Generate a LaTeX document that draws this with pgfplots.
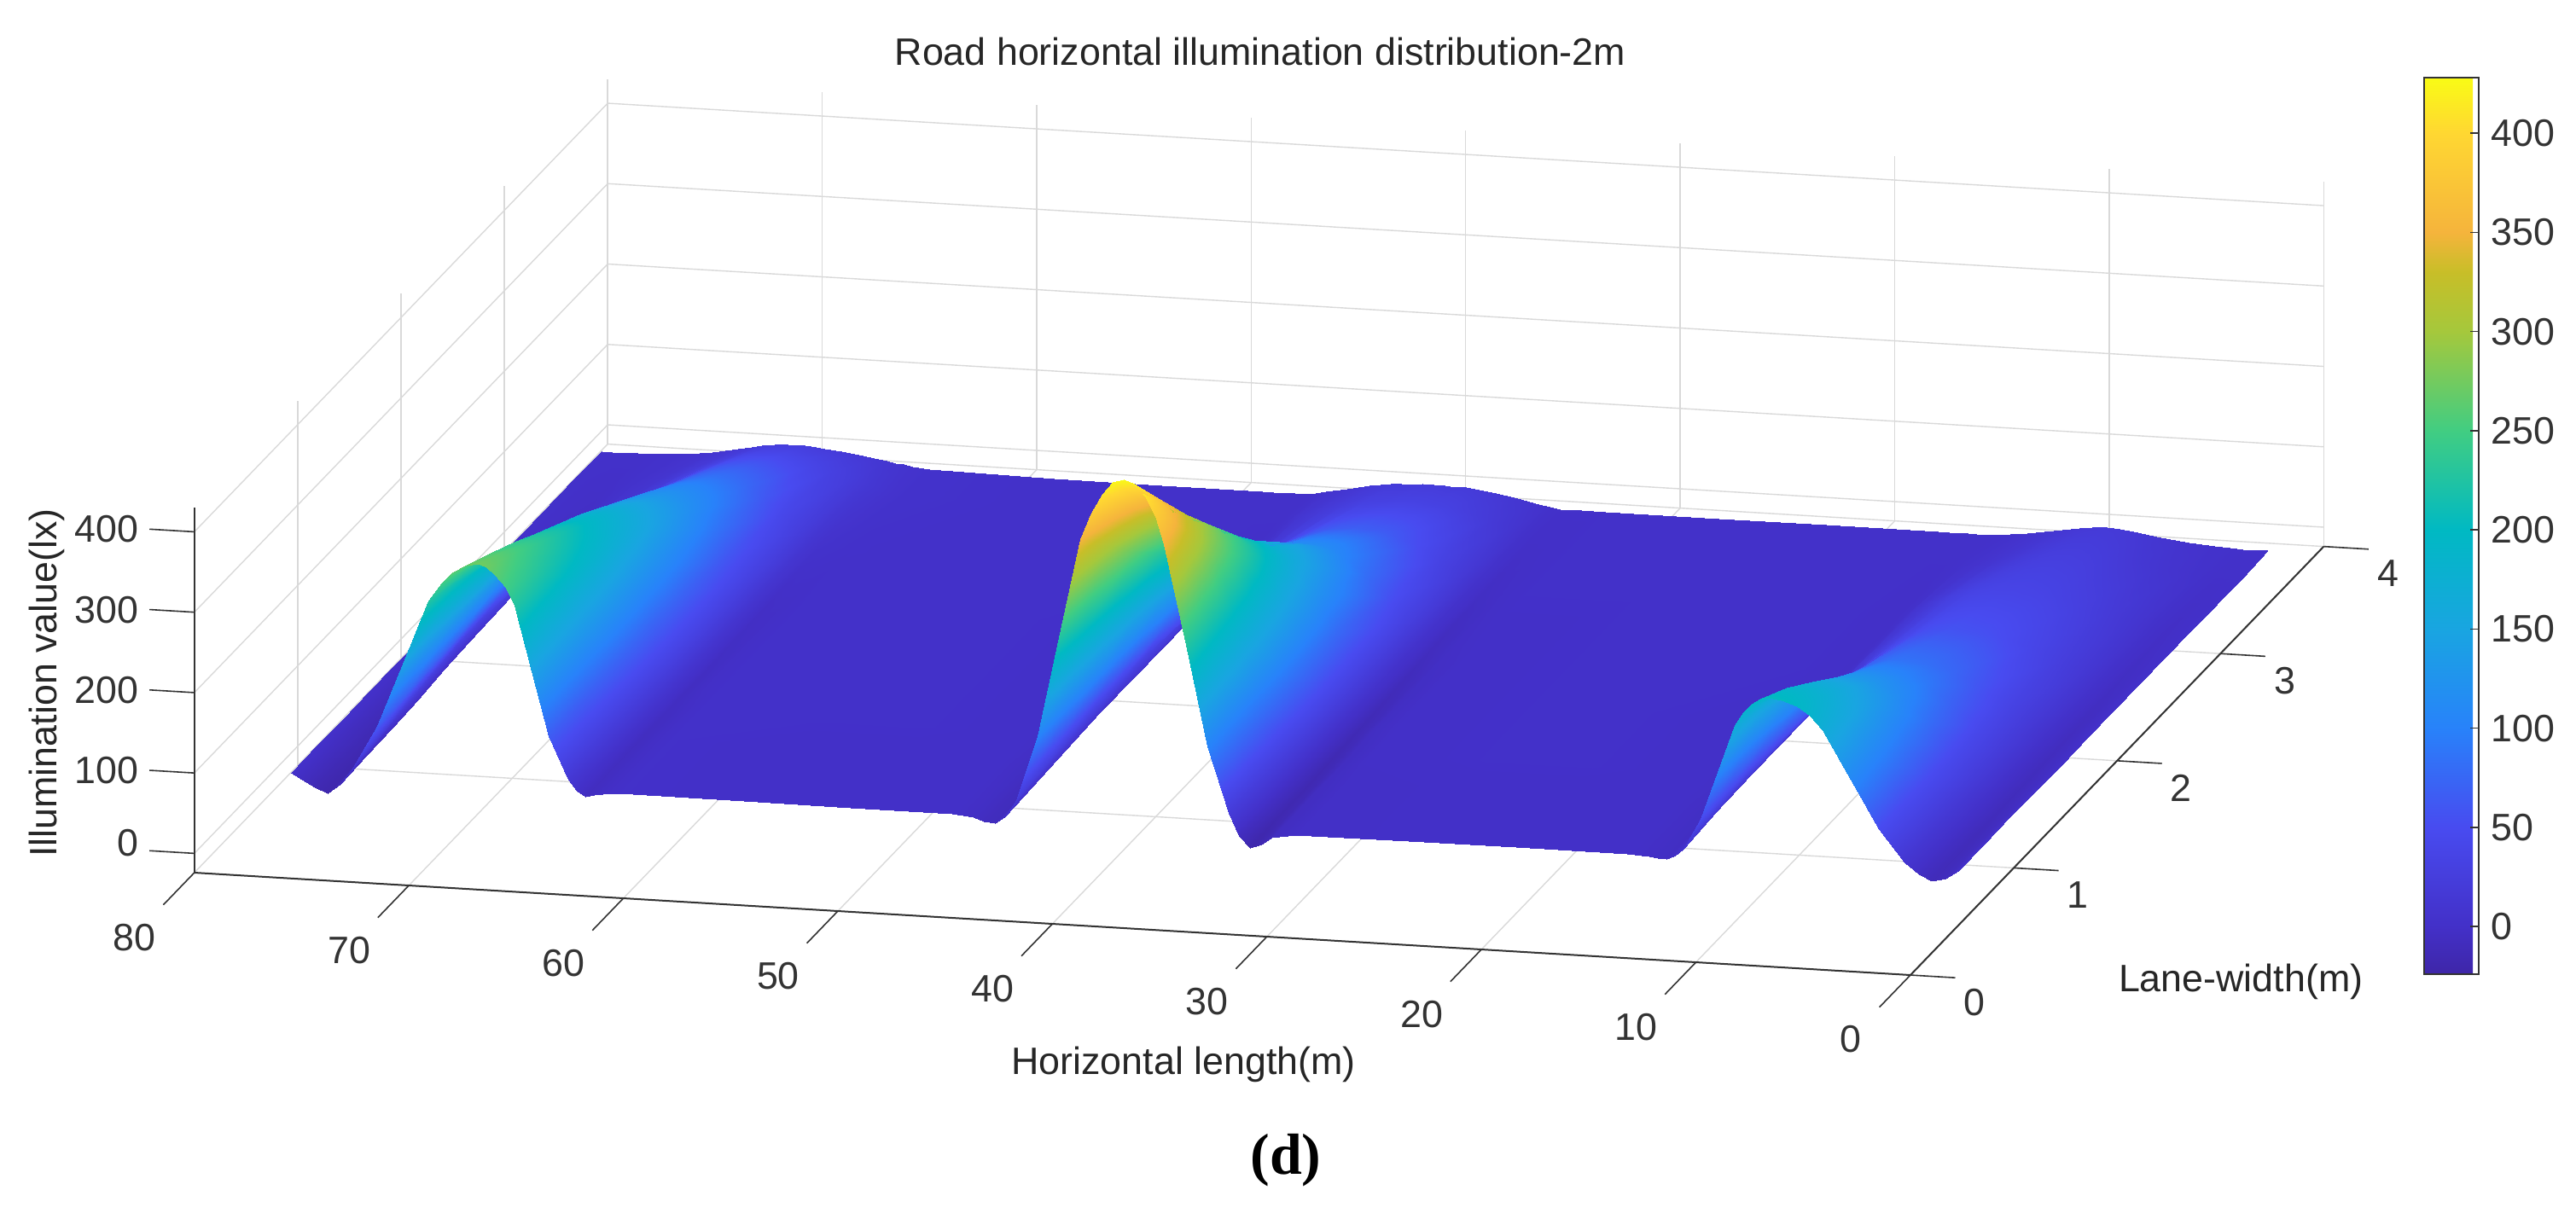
\documentclass[border=0pt]{standalone}
\usepackage{fontspec}
\setmainfont{Liberation Sans}
\newfontfamily\serifbf{Liberation Serif}
\usepackage{pgfplots}
\pgfplotsset{compat=1.18}
\newcommand{\lab}{\fontsize{11.2}{13}\selectfont}
\begin{document}
\begin{tikzpicture}
\begin{axis}[
  at={(0pt,0pt)},anchor=origin,
  x dir=reverse,
  x={(6.285pt,-0.375pt)},y={(30.275pt,31.4pt)},z={(0pt,0.2356pt)},
  xmin=0,xmax=80,ymin=0,ymax=4,zmin=-24,zmax=430,
  xtick={0,10,...,80},ytick={0,1,2,3,4},ztick={0,100,200,300,400},
  grid=major,
  grid style={gray!30,line width=0.35pt},
  axis line style={draw=none},
  tick align=outside,
  major tick length=12pt,
  tick style={draw=none},
  tick label style={font=\lab,text=black!80},
  xticklabel style={xshift=-6pt,yshift=-2.4pt},
  zticklabel style={xshift=-4.45pt,yshift=14.4pt},
  /pgf/number format/assume math mode=true,
  clip=false,
  colormap={parula}{rgb255(0pt)=(62,38,168);rgb255(24pt)=(67,48,200);rgb255(74pt)=(72,75,240);rgb255(124pt)=(40,130,250);rgb255(174pt)=(25,165,225);rgb255(224pt)=(0,185,195);rgb255(274pt)=(65,205,130);rgb255(324pt)=(165,200,60);rgb255(354pt)=(200,190,40);rgb255(374pt)=(245,180,60);rgb255(424pt)=(255,215,50);rgb255(452pt)=(249,251,21)},
  point meta min=-24,point meta max=428,
  colorbar,
  colorbar style={
    at={(parent axis.origin)},anchor=south west,xshift=142pt,yshift=-5.4pt,
    width=16pt,height=262.75pt,
    ytick={0,50,...,400},
    ytick pos=right,
    tick align=inside,major tick length=2.5pt,
    tick style={draw=black!80,line width=0.4pt},
    axis line style={draw=black!80,line width=0.5pt},
    yticklabel style={font=\lab,text=black!80},
    /pgf/number format/assume math mode=true,
  },
]
\addplot3[surf,shader=interp,z buffer=sort,mesh/rows=10,mesh/cols=78] table[row sep=\\] {
1.4 0.75 3\\2 0.75 -7\\2.6 0.75 -11\\3.2 0.75 -4\\3.9 0.75 10\\5.1 0.75 49\\6.4 0.75 109\\7.7 0.75 168\\8.3 0.75 185\\8.9 0.75 196\\9.6 0.75 203\\10.2 0.75 205\\10.6 0.75 203\\11 0.75 196\\11.4 0.75 185\\11.8 0.75 168\\12.6 0.75 109\\13.4 0.75 49\\14.2 0.75 10\\14.6 0.75 1\\15 0.75 -4\\15.4 0.75 -3\\15.8 0.75 -2\\16.8 0.75 0\\22 0.75 0\\27 0.75 0\\32.3 0.75 -1\\33.4 0.75 -6\\33.9 0.75 -15\\34.4 0.75 -21\\34.9 0.75 -7\\35.4 0.75 21\\36.4 0.75 103\\37.4 0.75 227\\38.4 0.75 351\\38.8 0.75 385\\39.3 0.75 409\\39.8 0.75 424\\40.3 0.75 428\\40.8 0.75 424\\41.3 0.75 409\\41.8 0.75 385\\42.3 0.75 351\\43.3 0.75 227\\44.3 0.75 103\\45.3 0.75 21\\45.8 0.75 1\\46.3 0.75 -9\\46.8 0.75 -7\\47.3 0.75 -3\\48.3 0.75 0\\53 0.75 0\\58 0.75 0\\63.8 0.75 1\\64.6 0.75 -2\\65 0.75 -4\\65.4 0.75 -6\\65.8 0.75 1\\66.2 0.75 14\\67.1 0.75 66\\67.9 0.75 146\\68.7 0.75 226\\69.1 0.75 248\\69.6 0.75 263\\70 0.75 272\\70.4 0.75 275\\71 0.75 272\\71.6 0.75 263\\72.1 0.75 248\\72.7 0.75 226\\73.9 0.75 146\\75.1 0.75 66\\76.2 0.75 14\\76.8 0.75 -9\\77.4 0.75 -21\\78 0.75 -15\\78.6 0.75 -6\\79.1 0.75 2\\
1.4 1 3\\2 1 -7\\2.6 1 -11\\3.2 1 -3\\3.9 1 13\\5.1 1 48\\6.4 1 102\\7.7 1 154\\8.3 1 167\\8.9 1 177\\9.6 1 183\\10.2 1 185\\10.6 1 183\\11 1 177\\11.4 1 167\\11.8 1 154\\12.6 1 102\\13.4 1 48\\14.2 1 13\\14.6 1 2\\15 1 -4\\15.4 1 -3\\15.8 1 -2\\16.8 1 0\\22 1 0\\27 1 0\\32.3 1 -1\\33.4 1 -6\\33.9 1 -14\\34.4 1 -18\\34.9 1 -3\\35.4 1 26\\36.4 1 98\\37.4 1 206\\38.4 1 311\\38.8 1 338\\39.3 1 358\\39.8 1 371\\40.3 1 375\\40.8 1 371\\41.3 1 358\\41.8 1 338\\42.3 1 311\\43.3 1 206\\44.3 1 98\\45.3 1 26\\45.8 1 3\\46.3 1 -9\\46.8 1 -7\\47.3 1 -3\\48.3 1 0\\53 1 0\\58 1 0\\63.8 1 1\\64.6 1 -2\\65 1 -4\\65.4 1 -6\\65.8 1 2\\66.2 1 18\\67.1 1 67\\67.9 1 142\\68.7 1 214\\69.1 1 232\\69.6 1 246\\70 1 255\\70.4 1 258\\71 1 255\\71.6 1 246\\72.1 1 232\\72.7 1 214\\73.9 1 142\\75.1 1 67\\76.2 1 18\\76.8 1 -7\\77.4 1 -20\\78 1 -14\\78.6 1 -6\\79.1 1 2\\
1.4 1.25 3\\2 1.25 -6\\2.6 1.25 -10\\3.2 1.25 -1\\3.9 1.25 16\\5.1 1.25 48\\6.4 1.25 93\\7.7 1.25 134\\8.3 1.25 145\\8.9 1.25 154\\9.6 1.25 158\\10.2 1.25 160\\10.6 1.25 158\\11 1.25 154\\11.4 1.25 145\\11.8 1.25 134\\12.6 1.25 93\\13.4 1.25 48\\14.2 1.25 16\\14.6 1.25 3\\15 1.25 -4\\15.4 1.25 -3\\15.8 1.25 -2\\16.8 1.25 0\\22 1.25 0\\27 1.25 0\\32.3 1.25 -1\\33.4 1.25 -5\\33.9 1.25 -13\\34.4 1.25 -17\\34.9 1.25 -1\\35.4 1.25 32\\36.4 1.25 97\\37.4 1.25 187\\38.4 1.25 270\\38.8 1.25 291\\39.3 1.25 309\\39.8 1.25 319\\40.3 1.25 322\\40.8 1.25 319\\41.3 1.25 309\\41.8 1.25 291\\42.3 1.25 270\\43.3 1.25 187\\44.3 1.25 97\\45.3 1.25 32\\45.8 1.25 5\\46.3 1.25 -8\\46.8 1.25 -6\\47.3 1.25 -3\\48.3 1.25 0\\53 1.25 0\\58 1.25 0\\63.8 1.25 1\\64.6 1.25 -2\\65 1.25 -4\\65.4 1.25 -6\\65.8 1.25 4\\66.2 1.25 24\\67.1 1.25 71\\67.9 1.25 138\\68.7 1.25 200\\69.1 1.25 215\\69.6 1.25 228\\70 1.25 236\\70.4 1.25 238\\71 1.25 236\\71.6 1.25 228\\72.1 1.25 215\\72.7 1.25 200\\73.9 1.25 138\\75.1 1.25 71\\76.2 1.25 24\\76.8 1.25 -5\\77.4 1.25 -19\\78 1.25 -13\\78.6 1.25 -6\\79.1 1.25 2\\
1.4 1.5 2\\2 1.5 -5\\2.6 1.5 -9\\3.2 1.5 0\\3.9 1.5 17\\5.1 1.5 45\\6.4 1.5 81\\7.7 1.5 112\\8.3 1.5 120\\8.9 1.5 127\\9.6 1.5 131\\10.2 1.5 132\\10.6 1.5 131\\11 1.5 127\\11.4 1.5 120\\11.8 1.5 112\\12.6 1.5 81\\13.4 1.5 45\\14.2 1.5 17\\14.6 1.5 4\\15 1.5 -3\\15.4 1.5 -2\\15.8 1.5 -1\\16.8 1.5 0\\22 1.5 1\\27 1.5 1\\32.3 1.5 0\\33.4 1.5 -5\\33.9 1.5 -12\\34.4 1.5 -16\\34.9 1.5 1\\35.4 1.5 36\\36.4 1.5 94\\37.4 1.5 168\\38.4 1.5 234\\38.8 1.5 250\\39.3 1.5 264\\39.8 1.5 272\\40.3 1.5 275\\40.8 1.5 272\\41.3 1.5 264\\41.8 1.5 250\\42.3 1.5 234\\43.3 1.5 168\\44.3 1.5 94\\45.3 1.5 36\\45.8 1.5 7\\46.3 1.5 -7\\46.8 1.5 -5\\47.3 1.5 -2\\48.3 1.5 0\\53 1.5 1\\58 1.5 1\\63.8 1.5 1\\64.6 1.5 -2\\65 1.5 -4\\65.4 1.5 -5\\65.8 1.5 6\\66.2 1.5 28\\67.1 1.5 74\\67.9 1.5 133\\68.7 1.5 185\\69.1 1.5 198\\69.6 1.5 209\\70 1.5 216\\70.4 1.5 218\\71 1.5 216\\71.6 1.5 209\\72.1 1.5 198\\72.7 1.5 185\\73.9 1.5 133\\75.1 1.5 74\\76.2 1.5 28\\76.8 1.5 -3\\77.4 1.5 -18\\78 1.5 -12\\78.6 1.5 -5\\79.1 1.5 2\\
1.4 1.75 2\\2 1.75 -4\\2.6 1.75 -8\\3.2 1.75 0\\3.9 1.75 17\\5.1 1.75 41\\6.4 1.75 68\\7.7 1.75 92\\8.3 1.75 98\\8.9 1.75 103\\9.6 1.75 106\\10.2 1.75 107\\10.6 1.75 106\\11 1.75 103\\11.4 1.75 98\\11.8 1.75 92\\12.6 1.75 68\\13.4 1.75 41\\14.2 1.75 17\\14.6 1.75 4\\15 1.75 -3\\15.4 1.75 -2\\15.8 1.75 -1\\16.8 1.75 0\\22 1.75 1\\27 1.75 1\\32.3 1.75 0\\33.4 1.75 -4\\33.9 1.75 -10\\34.4 1.75 -14\\34.9 1.75 3\\35.4 1.75 36\\36.4 1.75 87\\37.4 1.75 146\\38.4 1.75 196\\38.8 1.75 209\\39.3 1.75 219\\39.8 1.75 226\\40.3 1.75 228\\40.8 1.75 226\\41.3 1.75 219\\41.8 1.75 209\\42.3 1.75 196\\43.3 1.75 146\\44.3 1.75 87\\45.3 1.75 36\\45.8 1.75 8\\46.3 1.75 -6\\46.8 1.75 -5\\47.3 1.75 -2\\48.3 1.75 0\\53 1.75 1\\58 1.75 1\\63.8 1.75 1\\64.6 1.75 -1\\65 1.75 -3\\65.4 1.75 -5\\65.8 1.75 7\\66.2 1.75 32\\67.1 1.75 75\\67.9 1.75 126\\68.7 1.75 169\\69.1 1.75 180\\69.6 1.75 189\\70 1.75 195\\70.4 1.75 197\\71 1.75 195\\71.6 1.75 189\\72.1 1.75 180\\72.7 1.75 169\\73.9 1.75 126\\75.1 1.75 75\\76.2 1.75 32\\76.8 1.75 0\\77.4 1.75 -16\\78 1.75 -11\\78.6 1.75 -4\\79.1 1.75 2\\
1.4 2 2\\2 2 -3\\2.6 2 -7\\3.2 2 1\\3.9 2 16\\5.1 2 36\\6.4 2 58\\7.7 2 75\\8.3 2 79\\8.9 2 83\\9.6 2 85\\10.2 2 86\\10.6 2 85\\11 2 83\\11.4 2 79\\11.8 2 75\\12.6 2 58\\13.4 2 36\\14.2 2 16\\14.6 2 4\\15 2 -2\\15.4 2 -1\\15.8 2 -1\\16.8 2 0\\22 2 1\\27 2 1\\32.3 2 0\\33.4 2 -4\\33.9 2 -9\\34.4 2 -12\\34.9 2 4\\35.4 2 35\\36.4 2 78\\37.4 2 125\\38.4 2 162\\38.8 2 171\\39.3 2 179\\39.8 2 184\\40.3 2 186\\40.8 2 184\\41.3 2 179\\41.8 2 171\\42.3 2 162\\43.3 2 125\\44.3 2 78\\45.3 2 35\\45.8 2 8\\46.3 2 -5\\46.8 2 -4\\47.3 2 -2\\48.3 2 0\\53 2 1\\58 2 1\\63.8 2 1\\64.6 2 -1\\65 2 -3\\65.4 2 -4\\65.8 2 8\\66.2 2 33\\67.1 2 74\\67.9 2 118\\68.7 2 153\\69.1 2 162\\69.6 2 170\\70 2 174\\70.4 2 176\\71 2 174\\71.6 2 170\\72.1 2 162\\72.7 2 153\\73.9 2 118\\75.1 2 74\\76.2 2 33\\76.8 2 2\\77.4 2 -13\\78 2 -9\\78.6 2 -3\\79.1 2 2\\
1.4 2.5 2\\2 2.5 -2\\2.6 2.5 -4\\3.2 2.5 2\\3.9 2.5 14\\5.1 2.5 27\\6.4 2.5 40\\7.7 2.5 50\\8.3 2.5 53\\8.9 2.5 55\\9.6 2.5 56\\10.2 2.5 57\\10.6 2.5 56\\11 2.5 55\\11.4 2.5 53\\11.8 2.5 50\\12.6 2.5 40\\13.4 2.5 27\\14.2 2.5 14\\14.6 2.5 4\\15 2.5 -1\\15.4 2.5 0\\15.8 2.5 0\\16.8 2.5 1\\22 2.5 1\\27 2.5 1\\32.3 2.5 0\\33.4 2.5 -2\\33.9 2.5 -5\\34.4 2.5 -7\\34.9 2.5 5\\35.4 2.5 28\\36.4 2.5 55\\37.4 2.5 81\\38.4 2.5 102\\38.8 2.5 108\\39.3 2.5 113\\39.8 2.5 115\\40.3 2.5 116\\40.8 2.5 115\\41.3 2.5 113\\41.8 2.5 108\\42.3 2.5 102\\43.3 2.5 81\\44.3 2.5 55\\45.3 2.5 28\\45.8 2.5 7\\46.3 2.5 -3\\46.8 2.5 -2\\47.3 2.5 -1\\48.3 2.5 0\\53 2.5 1\\58 2.5 1\\63.8 2.5 1\\64.6 2.5 -1\\65 2.5 -1\\65.4 2.5 -2\\65.8 2.5 9\\66.2 2.5 31\\67.1 2.5 60\\67.9 2.5 90\\68.7 2.5 113\\69.1 2.5 119\\69.6 2.5 124\\70 2.5 127\\70.4 2.5 128\\71 2.5 127\\71.6 2.5 124\\72.1 2.5 119\\72.7 2.5 113\\73.9 2.5 88\\75.1 2.5 56\\76.2 2.5 25\\76.8 2.5 5\\77.4 2.5 -8\\78 2.5 -5\\78.6 2.5 -1\\79.1 2.5 2\\
1.4 3 2\\2 3 0\\2.6 3 -2\\3.2 3 2\\3.9 3 10\\5.1 3 19\\6.4 3 28\\7.7 3 34\\8.3 3 36\\8.9 3 37\\9.6 3 38\\10.2 3 38\\10.6 3 38\\11 3 37\\11.4 3 36\\11.8 3 34\\12.6 3 28\\13.4 3 19\\14.2 3 10\\14.6 3 3\\15 3 0\\15.4 3 0\\15.8 3 0\\16.8 3 1\\22 3 1\\27 3 1\\32.3 3 1\\33.4 3 -1\\33.9 3 -2\\34.4 3 -3\\34.9 3 4\\35.4 3 18\\36.4 3 34\\37.4 3 50\\38.4 3 61\\38.8 3 64\\39.3 3 66\\39.8 3 67\\40.3 3 68\\40.8 3 67\\41.3 3 66\\41.8 3 64\\42.3 3 61\\43.3 3 50\\44.3 3 34\\45.3 3 18\\45.8 3 5\\46.3 3 -1\\46.8 3 -1\\47.3 3 0\\48.3 3 1\\53 3 1\\58 3 1\\63.8 3 2\\64.6 3 3\\65 3 4\\65.4 3 5\\65.8 3 11\\66.2 3 24\\67.1 3 43\\67.9 3 62\\68.7 3 76\\69.1 3 80\\69.6 3 83\\70 3 85\\70.4 3 85\\71 3 83\\71.6 3 79\\72.1 3 74\\72.7 3 66\\73.9 3 47\\75.1 3 27\\76.2 3 11\\76.8 3 3\\77.4 3 -4\\78 3 -2\\78.6 3 0\\79.1 3 2\\
1.4 3.5 1\\2 3.5 1\\2.6 3.5 1\\3.2 3.5 3\\3.9 3.5 5\\5.1 3.5 9\\6.4 3.5 15\\7.7 3.5 22\\8.3 3.5 24\\8.9 3.5 25\\9.6 3.5 25\\10.2 3.5 24\\10.6 3.5 22\\11 3.5 20\\11.4 3.5 18\\11.8 3.5 15\\12.6 3.5 10\\13.4 3.5 6\\14.2 3.5 3\\14.6 3.5 2\\15 3.5 1\\15.4 3.5 1\\15.8 3.5 1\\16.8 3.5 1\\22 3.5 1\\27 3.5 1\\32.3 3.5 1\\33.4 3.5 0\\33.9 3.5 0\\34.4 3.5 0\\34.9 3.5 3\\35.4 3.5 10\\36.4 3.5 18\\37.4 3.5 25\\38.4 3.5 31\\38.8 3.5 32\\39.3 3.5 33\\39.8 3.5 34\\40.3 3.5 34\\40.8 3.5 34\\41.3 3.5 33\\41.8 3.5 32\\42.3 3.5 31\\43.3 3.5 25\\44.3 3.5 18\\45.3 3.5 10\\45.8 3.5 4\\46.3 3.5 1\\46.8 3.5 1\\47.3 3.5 1\\48.3 3.5 1\\53 3.5 1\\58 3.5 1\\63.8 3.5 4\\64.6 3.5 7\\65 3.5 10\\65.4 3.5 13\\65.8 3.5 17\\66.2 3.5 22\\67.1 3.5 30\\67.9 3.5 36\\68.7 3.5 41\\69.1 3.5 43\\69.6 3.5 45\\70 3.5 45\\70.4 3.5 45\\71 3.5 44\\71.6 3.5 41\\72.1 3.5 36\\72.7 3.5 30\\73.9 3.5 19\\75.1 3.5 9\\76.2 3.5 4\\76.8 3.5 2\\77.4 3.5 0\\78 3.5 0\\78.6 3.5 1\\79.1 3.5 2\\
1.4 3.75 2\\2 3.75 2\\2.6 3.75 2\\3.2 3.75 3\\3.9 3.75 4\\5.1 3.75 6\\6.4 3.75 10\\7.7 3.75 16\\8.3 3.75 18\\8.9 3.75 19\\9.6 3.75 18\\10.2 3.75 16\\10.6 3.75 14\\11 3.75 13\\11.4 3.75 11\\11.8 3.75 9\\12.6 3.75 6\\13.4 3.75 3\\14.2 3.75 1\\14.6 3.75 1\\15 3.75 1\\15.4 3.75 1\\15.8 3.75 1\\16.8 3.75 1\\22 3.75 1\\27 3.75 1\\32.3 3.75 1\\33.4 3.75 1\\33.9 3.75 1\\34.4 3.75 1\\34.9 3.75 3\\35.4 3.75 6\\36.4 3.75 11\\37.4 3.75 16\\38.4 3.75 20\\38.8 3.75 21\\39.3 3.75 21\\39.8 3.75 22\\40.3 3.75 22\\40.8 3.75 22\\41.3 3.75 21\\41.8 3.75 21\\42.3 3.75 20\\43.3 3.75 16\\44.3 3.75 11\\45.3 3.75 6\\45.8 3.75 3\\46.3 3.75 1\\46.8 3.75 1\\47.3 3.75 1\\48.3 3.75 1\\53 3.75 1\\58 3.75 1\\63.8 3.75 4\\64.6 3.75 6\\65 3.75 8\\65.4 3.75 9\\65.8 3.75 11\\66.2 3.75 13\\67.1 3.75 17\\67.9 3.75 20\\68.7 3.75 22\\69.1 3.75 23\\69.6 3.75 24\\70 3.75 24\\70.4 3.75 24\\71 3.75 23\\71.6 3.75 21\\72.1 3.75 18\\72.7 3.75 15\\73.9 3.75 9\\75.1 3.75 5\\76.2 3.75 3\\76.8 3.75 2\\77.4 3.75 2\\78 3.75 2\\78.6 3.75 2\\79.1 3.75 2\\
};
% the three axis lines that carry ticks, ticks run along the floor like MATLAB's
\draw[black!80,line width=0.5pt] (axis cs:80,0,-24) -- (axis cs:0,0,-24) -- (axis cs:0,4,-24);
\draw[black!80,line width=0.5pt] (axis cs:80,0,-24) -- (axis cs:80,0,430);
\pgfplotsinvokeforeach{0,10,20,30,40,50,60,70,80}{\draw[black!80,line width=0.4pt] (axis cs:#1,0,-24) -- (axis cs:#1,-0.3,-24);}
\pgfplotsinvokeforeach{0,1,2,3,4}{\draw[black!80,line width=0.4pt] (axis cs:0,#1,-24) -- (axis cs:-2.09,#1,-24);}
\pgfplotsinvokeforeach{0,100,200,300,400}{\draw[black!80,line width=0.4pt] (axis cs:80,0,#1) -- (axis cs:82.09,0,#1);}
\end{axis}
\pgfresetboundingbox
\path[use as bounding box] (-559.75pt,280.1pt) rectangle (195pt,-76.9pt);
\node[font=\lab,text=black!85] at (-190.5pt,265.1pt) {Road horizontal illumination distribution-2m};
\node[font=\lab,text=black!85] at (-213pt,-31.9pt) {Horizontal length(m)};
\node[font=\lab,text=black!85] at (96.8pt,-7.7pt) {Lane-width(m)};
\node[font=\lab,text=black!85,rotate=90] at (-546pt,80pt) {Illumination value(lx)};
\node[font=\fontsize{17}{19}\selectfont\serifbf\bfseries] at (-183pt,-60pt) {(d)};
\end{tikzpicture}
\end{document}
